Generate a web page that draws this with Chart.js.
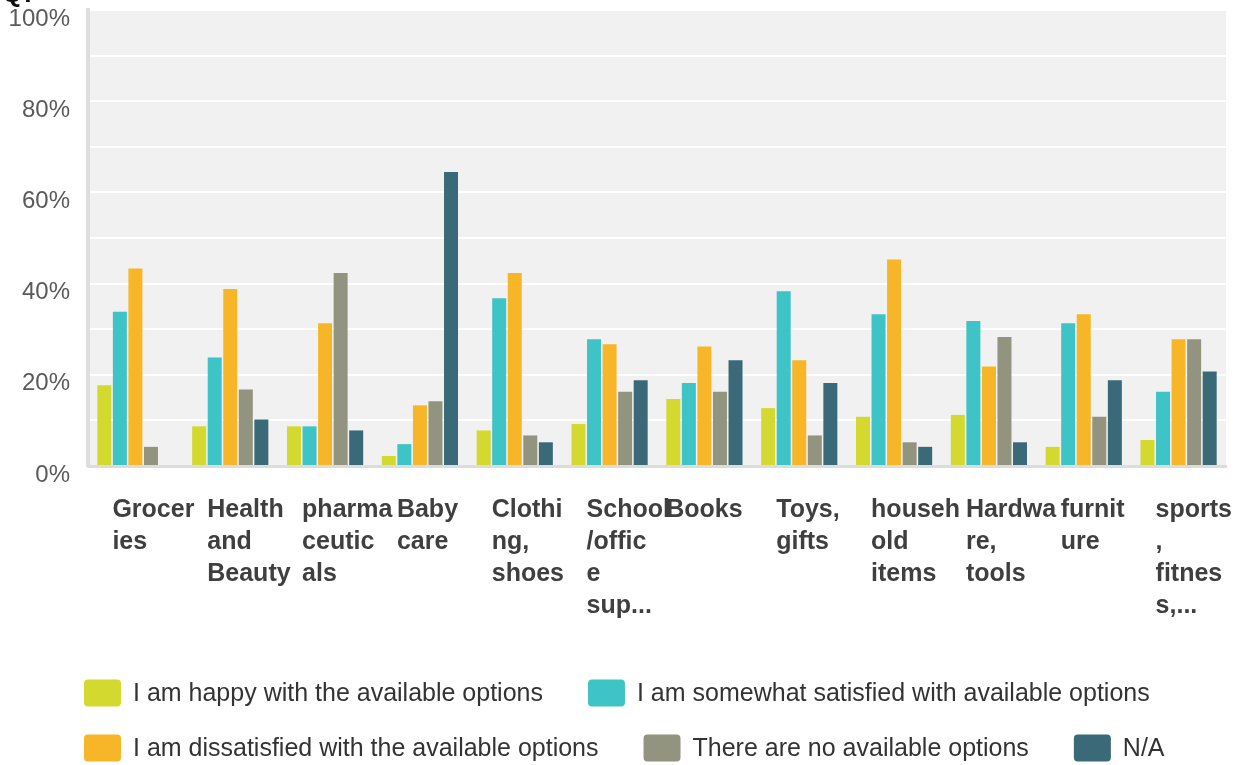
<!DOCTYPE html>
<html><head><meta charset="utf-8">
<script src="https://cdn.jsdelivr.net/npm/chart.js@4.4.1/dist/chart.umd.min.js"></script>
<style>html,body{margin:0;padding:0;background:#fff;} #wrap{width:1235px;height:765px;position:relative;}</style>
</head><body><div id="wrap"><canvas id="c" width="1235" height="765"></canvas></div>
<script>
const categories = [["Grocer","ies"],["Health","and","Beauty"],["pharma","ceutic","als"],["Baby","care"],["Clothi","ng,","shoes"],["School","/offic","e","sup..."],["Books"],["Toys,","gifts"],["househ","old","items"],["Hardwa","re,","tools"],["furnit","ure"],["sports",",","fitnes","s,..."]];
const seriesNames = ["I am happy with the available options","I am somewhat satisfied with available options","I am dissatisfied with the available options","There are no available options","N/A"];
const happy    = [17.7, 8.7, 8.7, 2.2, 7.8, 9.2, 14.7, 12.7, 10.8, 11.2, 4.2, 5.7];
const somewhat = [33.8, 23.8, 8.7, 4.8, 36.8, 27.8, 18.2, 38.3, 33.3, 31.8, 31.3, 16.3];
const dissat   = [43.3, 38.8, 31.3, 13.3, 42.3, 26.7, 26.2, 23.2, 45.3, 21.8, 33.3, 27.8];
const noneAv   = [4.2, 16.8, 42.3, 14.2, 6.7, 16.3, 16.3, 6.7, 5.2, 28.3, 10.8, 27.8];
const na       = [0, 10.2, 7.8, 64.5, 5.2, 18.8, 23.2, 18.2, 4.2, 5.2, 18.8, 20.7];
const yTickLabels = ["0%","20%","40%","60%","80%","100%"];
const colors = ["#d3d92f","#3ec3c7","#f7b528","#93947f","#3a6a78"];

const FONT = '"Liberation Sans", Arial, Helvetica, sans-serif';

const decor = {
  id: 'decor',
  beforeDraw(chart) {
    const {ctx, chartArea: a} = chart;
    ctx.save();
    ctx.fillStyle = '#f1f1f1';
    ctx.fillRect(a.left, a.top, a.right - a.left, a.bottom - a.top);
    ctx.restore();
  },
  afterDraw(chart) {
    const {ctx, chartArea: a} = chart;
    const xs = chart.scales.x, ys = chart.scales.y;
    ctx.save();
    // cut-off title at very top
    ctx.fillStyle = '#111';
    ctx.font = 'bold 26px ' + FONT;
    ctx.textAlign = 'left'; ctx.textBaseline = 'alphabetic';
    ctx.fillText('Q7', 2, 2);
    // y tick labels
    ctx.fillStyle = '#5a5a5a';
    ctx.font = '24px ' + FONT;
    ctx.textAlign = 'right'; ctx.textBaseline = 'middle';
    yTickLabels.forEach((t) => {
      const v = parseFloat(t);
      ctx.fillText(t, 70, ys.getPixelForValue(v) + 9);
    });
    // category labels
    ctx.fillStyle = '#3f3f3f';
    ctx.font = 'bold 25px ' + FONT;
    categories.forEach((lines, i) => {
      const cx = xs.getPixelForValue(i);
      lines.forEach((ln, j) => {
        const y = a.bottom + 44 + j * 32;
        if (lines.length === 1) { ctx.textAlign = 'center'; ctx.fillText(ln, cx, y); }
        else { ctx.textAlign = 'left'; ctx.fillText(ln, cx - 23, y); }
      });
    });
    // legend
    ctx.font = '25px ' + FONT;
    ctx.textAlign = 'left'; ctx.textBaseline = 'middle';
    const startX = 84, maxX = 1230, gap = 45, boxW = 37, boxH = 27;
    let x = startX, row = 0;
    const rowY = [693, 748];
    chart.data.datasets.forEach((ds) => {
      const w = boxW + 12 + ctx.measureText(ds.label).width;
      if (x + w > maxX && x > startX) { row++; x = startX; }
      const cy = rowY[row];
      ctx.fillStyle = ds.backgroundColor;
      ctx.beginPath();
      ctx.roundRect(x, cy - boxH / 2, boxW, boxH, 4);
      ctx.fill();
      ctx.fillStyle = '#333';
      ctx.fillText(ds.label, x + boxW + 12, cy + 1);
      x += w + gap;
    });
    ctx.restore();
  }
};

const seriesData = [happy, somewhat, dissat, noneAv, na];
new Chart(document.getElementById('c'), {
  type: 'bar',
  data: {
    labels: categories.map(l => l.join('')),
    datasets: seriesNames.map((n, i) => ({
      label: n, data: seriesData[i], backgroundColor: colors[i],
      borderWidth: 0, barPercentage: 0.9, categoryPercentage: 0.82
    }))
  },
  options: {
    responsive: false, animation: false,
    layout: { padding: { left: 88, right: 9, top: 10, bottom: 299 } },
    plugins: { legend: { display: false }, tooltip: { enabled: false }, title: { display: false } },
    scales: {
      x: {
        grid: { display: false, drawTicks: false },
        border: { display: true, color: '#dcdcdc', width: 3 },
        ticks: { display: false },
        afterFit(s) { s.height = 0; }
      },
      y: {
        min: 0, max: 100,
        ticks: { display: false, stepSize: 10 },
        grid: { color: '#ffffff', lineWidth: 2, drawTicks: false },
        border: { display: true, color: '#dedede', width: 4 },
        afterFit(s) { s.width = 0; }
      }
    }
  },
  plugins: [decor]
});
</script></body></html>
